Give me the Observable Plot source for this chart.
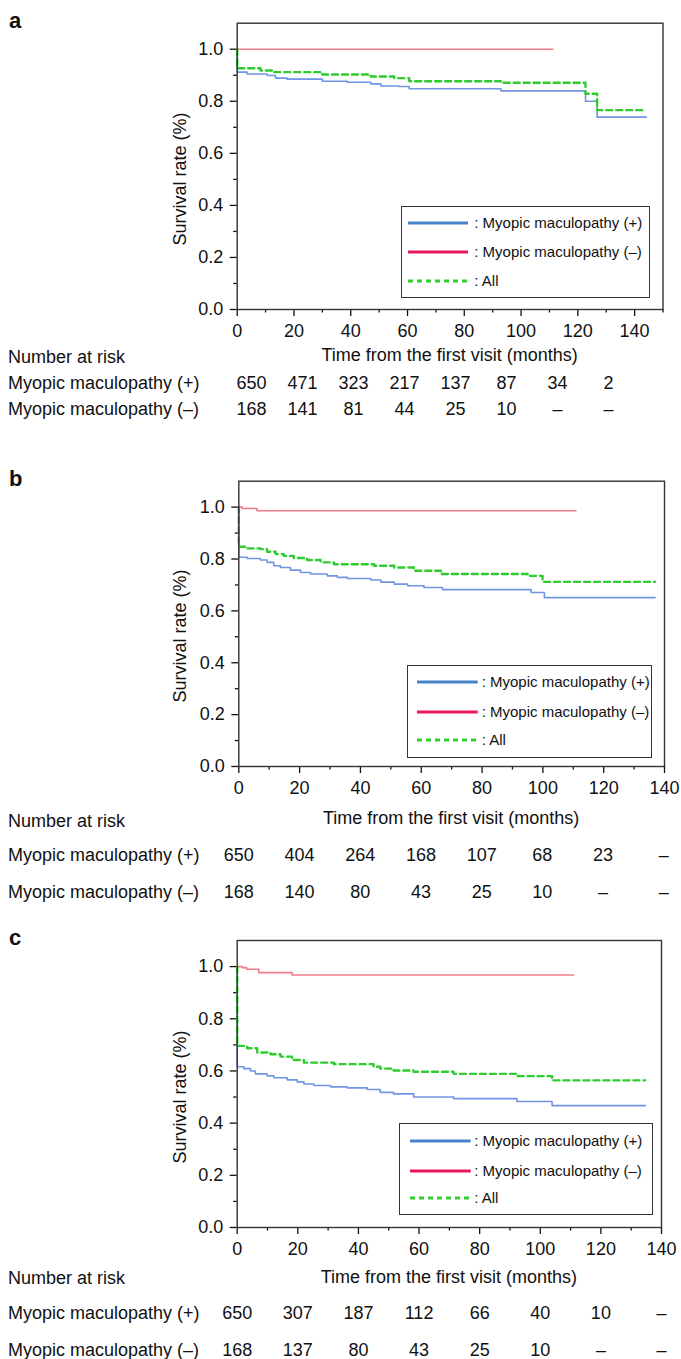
<!DOCTYPE html>
<html><head><meta charset="utf-8">
<script src="https://cdn.jsdelivr.net/npm/d3@7"></script>
<script src="https://cdn.jsdelivr.net/npm/@observablehq/plot@0.6"></script>
<style>
body{margin:0;background:#fff;}
#root{position:relative;width:681px;height:1359px;overflow:hidden;font-family:"Liberation Sans",Arial,Helvetica,sans-serif;color:#111;background:#fff;}
.abs{position:absolute;white-space:nowrap;}
.lbl{font-size:18px;line-height:20px;height:20px;}
.letter{font-size:22px;font-weight:bold;line-height:24px;height:24px;}
.ylab{font-size:18px;line-height:20px;height:20px;width:220px;text-align:center;transform:rotate(-90deg);}
.legend{position:absolute;border:1.3px solid #333;box-sizing:border-box;background:#fff;}
.lg-row{position:absolute;font-size:15px;line-height:18px;height:18px;display:flex;align-items:center;white-space:nowrap;}
.plotwrap{position:absolute;left:0;}
</style>
</head><body><div id="root"></div>
<script>
// ---------- data ----------
const timeTicks = [0, 20, 40, 60, 80, 100, 120, 140];
const yMajor = [0, 0.2, 0.4, 0.6, 0.8, 1.0];
const yMinor = [0.1, 0.3, 0.5, 0.7, 0.9];
const seriesNames = [": Myopic maculopathy (+)", ": Myopic maculopathy (–)", ": All"];
const rowLabels = ["Myopic maculopathy (+)", "Myopic maculopathy (–)"];

// Panel a
const plusTimeA = [0, 0, 3.5, 10.6, 13.5, 17.6, 30, 38.8, 47, 50.6, 57, 60.6, 92.9, 122.7, 126.8, 144.1];
const plusSurvA = [1, 0.912, 0.905, 0.899, 0.889, 0.885, 0.877, 0.873, 0.867, 0.859, 0.857, 0.848, 0.840, 0.800, 0.739, 0.739];
const minusTimeA = [0, 111.2];
const minusSurvA = [1, 1];
const allTimeA = [0, 0, 8.2, 12.4, 30, 47, 55.3, 60.6, 92.9, 122.7, 126.8, 144.1];
const allSurvA = [1, 0.927, 0.918, 0.912, 0.903, 0.895, 0.889, 0.877, 0.871, 0.829, 0.766, 0.766];
const riskPlusA = ["650", "471", "323", "217", "137", "87", "34", "2"];
const riskMinusA = ["168", "141", "81", "44", "25", "10", "–", "–"];

// Panel b
const plusTimeB = [0, 0, 2.8, 7.1, 9.3, 11.5, 13.7, 17.0, 20.3, 23.6, 29.1, 32.4, 35.7, 43.4, 46.7, 51.1, 55.5, 60.9, 67.0, 96.1, 100.5, 136.9];
const plusSurvB = [1, 0.807, 0.802, 0.796, 0.787, 0.774, 0.767, 0.757, 0.748, 0.742, 0.735, 0.729, 0.725, 0.719, 0.711, 0.703, 0.697, 0.690, 0.682, 0.671, 0.651, 0.651];
const minusTimeB = [0, 1.1, 6.0, 110.9];
const minusSurvB = [1, 0.995, 0.986, 0.986];
const allTimeB = [0, 0, 2.8, 7.1, 9.3, 12.1, 14.8, 18.1, 22.5, 26.9, 31.3, 44.5, 51.1, 57.6, 66.4, 95.0, 99.9, 136.9];
const allSurvB = [1, 0.847, 0.841, 0.838, 0.828, 0.819, 0.812, 0.804, 0.796, 0.787, 0.780, 0.774, 0.767, 0.755, 0.742, 0.735, 0.712, 0.712];
const riskPlusB = ["650", "404", "264", "168", "107", "68", "23", "–"];
const riskMinusB = ["168", "140", "80", "43", "25", "10", "–", "–"];

// Panel c
const plusTimeC = [0, 0, 2.2, 4.4, 6.0, 9.9, 12.1, 16.5, 19.8, 22.0, 25.3, 30.8, 36.3, 42.9, 47.2, 51.6, 58.2, 71.4, 92.3, 103.9, 134.6];
const plusSurvC = [1, 0.616, 0.609, 0.600, 0.589, 0.581, 0.574, 0.566, 0.558, 0.550, 0.544, 0.539, 0.535, 0.529, 0.518, 0.512, 0.500, 0.494, 0.483, 0.467, 0.467];
const minusTimeC = [0, 1.6, 3.1, 7.1, 18.1, 111];
const minusSurvC = [1, 0.996, 0.990, 0.977, 0.968, 0.968];
const allTimeC = [0, 0, 3.3, 6.6, 11.0, 14.3, 18.1, 22.0, 31.9, 45.0, 47.2, 51.6, 58.2, 71.4, 92.3, 103.9, 134.6];
const allSurvC = [1, 0.696, 0.687, 0.671, 0.664, 0.655, 0.642, 0.632, 0.626, 0.616, 0.609, 0.602, 0.597, 0.589, 0.580, 0.564, 0.564];
const riskPlusC = ["650", "307", "187", "112", "66", "40", "10", "–"];
const riskMinusC = ["168", "137", "80", "43", "25", "10", "–", "–"];

// ---------- styling / layout ----------
const FONT = '"Liberation Sans", Arial, Helvetica, sans-serif';
const C_PLUS = "#6f95e3", C_MINUS = "#eb7d8b", C_ALL = "#2fcc2f";
const L_PLUS = "#4683c9", L_MINUS = "#e8175d", L_ALL = "#33cc33";

const panels = [
  {letter: "a", top: 0, frameTop: 22.7, frameBottom: 309, left: 236.7, right: 662.5, xmax: 150,
   xMajor: timeTicks, xMinor: [10, 30, 50, 70, 90, 110, 130, 150],
   plus: [plusTimeA, plusSurvA], minus: [minusTimeA, minusSurvA], all: [allTimeA, allSurvA],
   risk: [riskPlusA, riskMinusA], riskRange: [251, 608], rows: [383, 409], titleY: 355, narY: 357,
   legend: {left: 400.7, top: 206, w: 249.3, h: 92.3, rows: [16.3, 44.7, 74], lx: 6.6, lw: 60, tx: 72.6}},
  {letter: "b", top: 460, frameTop: 480.7, frameBottom: 766, left: 238.3, right: 664, xmax: 140,
   xMajor: timeTicks, xMinor: [10, 30, 50, 70, 90, 110, 130],
   plus: [plusTimeB, plusSurvB], minus: [minusTimeB, minusSurvB], all: [allTimeB, allSurvB],
   risk: [riskPlusB, riskMinusB], riskRange: [238.3, 663.3], rows: [855, 892], titleY: 818, narY: 821,
   legend: {left: 406.7, top: 665.3, w: 245.6, h: 92.4, rows: [16, 45.7, 74], lx: 9.3, lw: 60.7, tx: 74}},
  {letter: "c", top: 920, frameTop: 940, frameBottom: 1227, left: 236.7, right: 661, xmax: 140,
   xMajor: timeTicks, xMinor: [10, 30, 50, 70, 90, 110, 130],
   plus: [plusTimeC, plusSurvC], minus: [minusTimeC, minusSurvC], all: [allTimeC, allSurvC],
   risk: [riskPlusC, riskMinusC], riskRange: [236.7, 661], rows: [1313, 1350], titleY: 1277, narY: 1278,
   legend: {left: 398.7, top: 1122.7, w: 254, h: 92.3, rows: [17.3, 47.3, 74], lx: 10.6, lw: 60.7, tx: 74.6}}
];

const root = document.getElementById("root");
function addDiv(cls, text, css) {
  const d = document.createElement("div");
  d.className = "abs " + cls;
  d.textContent = text;
  Object.assign(d.style, css);
  root.appendChild(d);
  return d;
}
const zip = (t, s) => t.map((d, i) => ({t: d, s: s[i]}));

for (const p of panels) {
  const below = 36;
  const height = p.frameBottom - p.top + below;
  const chart = Plot.plot({
    width: 681, height,
    marginTop: p.frameTop - p.top, marginBottom: below,
    marginLeft: p.left, marginRight: 681 - p.right,
    x: {domain: [0, p.xmax]},
    y: {domain: [0, 1.1]},
    style: {fontFamily: FONT, fontSize: "18px", color: "#111", background: "transparent", overflow: "visible"},
    marks: [
      Plot.axisY({ticks: yMajor, tickSize: 7, tickPadding: 7, tickFormat: d3.format(".1f"), label: null, fontSize: 18, strokeWidth: 1.3}),
      Plot.axisY({ticks: yMinor, tickSize: 3.5, tickFormat: () => "", label: null, strokeWidth: 1.3}),
      Plot.axisX({ticks: p.xMajor, tickSize: 7, tickPadding: 8, label: null, fontSize: 18, strokeWidth: 1.3}),
      Plot.axisX({ticks: p.xMinor, tickSize: 3.5, tickFormat: () => "", label: null, strokeWidth: 1.3}),
      Plot.line(zip(...p.plus), {x: "t", y: "s", curve: "step-after", stroke: C_PLUS, strokeWidth: 1.6}),
      Plot.line(zip(...p.minus), {x: "t", y: "s", curve: "step-after", stroke: C_MINUS, strokeWidth: 1.6}),
      Plot.line(zip(...p.all), {x: "t", y: "s", curve: "step-after", stroke: C_ALL, strokeWidth: 2.4, strokeDasharray: "6,4"}),
      Plot.frame({stroke: "#333", strokeWidth: 1.4})
    ]
  });
  const w1 = document.createElement("div");
  w1.className = "plotwrap";
  w1.style.top = p.top + "px";
  w1.appendChild(chart);
  root.appendChild(w1);

  // risk table numbers
  const gap = p.rows[1] - p.rows[0];
  const riskData = [];
  timeTicks.forEach((t, i) => {
    riskData.push({t, row: "+", v: p.risk[0][i]});
    riskData.push({t, row: "-", v: p.risk[1][i]});
  });
  const riskChart = Plot.plot({
    width: 681, height: gap + 40,
    margin: 0,
    x: {domain: [0, 140], range: p.riskRange, axis: null},
    y: {type: "point", domain: ["+", "-"], range: [20, 20 + gap], padding: 0, axis: null},
    style: {fontFamily: FONT, fontSize: "18px", color: "#111", background: "transparent"},
    marks: [
      Plot.text(riskData, {x: "t", y: "row", text: "v", fontSize: 18, lineAnchor: "middle", fill: "#111"})
    ]
  });
  const w2 = document.createElement("div");
  w2.className = "plotwrap";
  w2.style.top = (p.rows[0] - 20) + "px";
  w2.appendChild(riskChart);
  root.appendChild(w2);

  // texts
  addDiv("letter", p.letter, {left: "9px", top: (p.frameTop - 1.7 - 12) + "px"});
  const y05 = p.frameBottom - (p.frameBottom - p.frameTop) / 1.1 * 0.5;
  addDiv("ylab", "Survival rate (%)", {left: (180 - 110) + "px", top: (y05 - 10) + "px"});
  const cx = (p.left + p.right) / 2;
  addDiv("lbl", "Time from the first visit (months)", {left: (cx - 200) + "px", width: "400px", textAlign: "center", top: (p.titleY - 10) + "px"});
  addDiv("lbl", "Number at risk", {left: "8px", top: (p.narY - 10) + "px"});
  addDiv("lbl", rowLabels[0], {left: "8px", top: (p.rows[0] - 10) + "px"});
  addDiv("lbl", rowLabels[1], {left: "8px", top: (p.rows[1] - 10) + "px"});

  // legend
  const L = p.legend;
  const box = document.createElement("div");
  box.className = "legend";
  Object.assign(box.style, {left: L.left + "px", top: L.top + "px", width: L.w + "px", height: L.h + "px"});
  const styles = [[L_PLUS, null], [L_MINUS, null], [L_ALL, "5,4"]];
  seriesNames.forEach((name, i) => {
    const r = document.createElement("div");
    r.className = "lg-row";
    Object.assign(r.style, {left: L.lx + "px", top: (L.rows[i] - 9) + "px"});
    const ns = "http://www.w3.org/2000/svg";
    const s = document.createElementNS(ns, "svg");
    s.setAttribute("width", L.lw); s.setAttribute("height", 18);
    const ln = document.createElementNS(ns, "line");
    ln.setAttribute("x1", 0); ln.setAttribute("x2", L.lw);
    ln.setAttribute("y1", 9); ln.setAttribute("y2", 9);
    ln.setAttribute("stroke", styles[i][0]); ln.setAttribute("stroke-width", 3);
    if (styles[i][1]) ln.setAttribute("stroke-dasharray", styles[i][1]);
    s.appendChild(ln);
    r.appendChild(s);
    const sp = document.createElement("span");
    sp.textContent = name;
    sp.style.marginLeft = (L.tx - L.lx - L.lw) + "px";
    r.appendChild(sp);
    box.appendChild(r);
  });
  root.appendChild(box);
}
</script>
</body></html>
